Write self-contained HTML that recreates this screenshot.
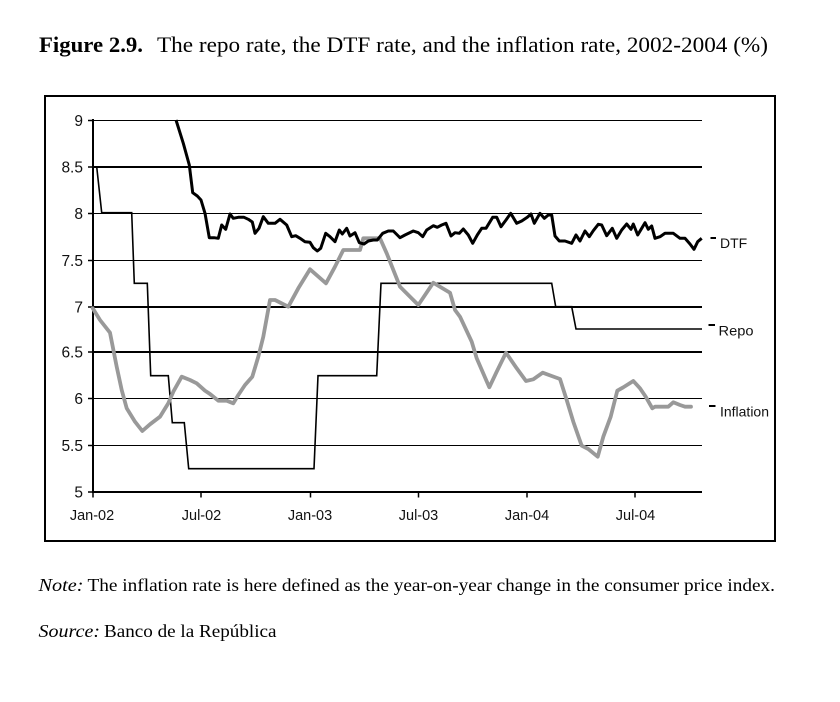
<!DOCTYPE html>
<html>
<head>
<meta charset="utf-8">
<style>
  html, body { margin:0; padding:0; background:#fff; }
  body { width:840px; height:702px; overflow:hidden; }
  svg { display:block; }
</style>
</head>
<body>
<svg width="840" height="702" viewBox="0 0 840 702" xmlns="http://www.w3.org/2000/svg">
  <rect x="0" y="0" width="840" height="702" fill="#fff"/>

  <!-- Title -->
  <text x="39" y="52" font-family="Liberation Serif, serif" font-size="22" font-weight="bold" textLength="104" lengthAdjust="spacingAndGlyphs">Figure 2.9.</text>
  <text x="157" y="52" font-family="Liberation Serif, serif" font-size="22" textLength="611" lengthAdjust="spacingAndGlyphs">The repo rate, the DTF rate, and the inflation rate, 2002-2004 (%)</text>

  <!-- Chart box -->
  <rect x="45" y="96" width="730" height="445" fill="none" stroke="#000" stroke-width="2"/>

  <!-- Gridlines -->
  <g stroke="#000" fill="none">
    <line x1="93" y1="120.5" x2="702" y2="120.5" stroke-width="1"/>
    <line x1="93" y1="167" x2="702" y2="167" stroke-width="2"/>
    <line x1="93" y1="213.5" x2="702" y2="213.5" stroke-width="1"/>
    <line x1="93" y1="260.5" x2="702" y2="260.5" stroke-width="1"/>
    <line x1="93" y1="307" x2="702" y2="307" stroke-width="2"/>
    <line x1="93" y1="352" x2="702" y2="352" stroke-width="2"/>
    <line x1="93" y1="398.5" x2="702" y2="398.5" stroke-width="1"/>
    <line x1="93" y1="445.5" x2="702" y2="445.5" stroke-width="1"/>
  </g>

  <!-- Axes -->
  <g stroke="#000" fill="none">
    <line x1="93" y1="119" x2="93" y2="493" stroke-width="2"/>
    <line x1="92" y1="492" x2="702" y2="492" stroke-width="2"/>
    <g stroke-width="1.5">
      <line x1="88" y1="120.5" x2="93" y2="120.5"/>
      <line x1="88" y1="167" x2="93" y2="167"/>
      <line x1="88" y1="213.5" x2="93" y2="213.5"/>
      <line x1="88" y1="260.5" x2="93" y2="260.5"/>
      <line x1="88" y1="307" x2="93" y2="307"/>
      <line x1="88" y1="352" x2="93" y2="352"/>
      <line x1="88" y1="398.5" x2="93" y2="398.5"/>
      <line x1="88" y1="445.5" x2="93" y2="445.5"/>
      <line x1="88" y1="492" x2="93" y2="492"/>
    </g>
    <g stroke-width="1.5">
      <line x1="93" y1="492" x2="93" y2="497.5"/>
      <line x1="201" y1="492" x2="201" y2="497.5"/>
      <line x1="310.5" y1="492" x2="310.5" y2="497.5"/>
      <line x1="418.5" y1="492" x2="418.5" y2="497.5"/>
      <line x1="527" y1="492" x2="527" y2="497.5"/>
      <line x1="635" y1="492" x2="635" y2="497.5"/>
    </g>
  </g>

  <!-- Y labels -->
  <g font-family="Liberation Sans, Arial, sans-serif" font-size="15.5" fill="#111" text-anchor="end">
    <text x="83" y="126">9</text>
    <text x="83" y="172.5">8.5</text>
    <text x="83" y="219">8</text>
    <text x="83" y="266">7.5</text>
    <text x="83" y="312.5">7</text>
    <text x="83" y="357.5">6.5</text>
    <text x="83" y="404">6</text>
    <text x="83" y="451">5.5</text>
    <text x="83" y="497.5">5</text>
  </g>

  <!-- X labels -->
  <g font-family="Liberation Sans, Arial, sans-serif" font-size="14.5" fill="#111" text-anchor="middle">
    <text x="92" y="520">Jan-02</text>
    <text x="201.5" y="520">Jul-02</text>
    <text x="310" y="520">Jan-03</text>
    <text x="418.5" y="520">Jul-03</text>
    <text x="527" y="520">Jan-04</text>
    <text x="635.5" y="520">Jul-04</text>
  </g>

  <!-- Repo (thin black) -->
  <polyline fill="none" stroke="#000" stroke-width="1.6" stroke-linejoin="miter"
    points="96.7,166.7 101.7,212.7 131.7,212.7 134.3,283.3 147.3,283.3 150.7,375.7 168.3,375.7 172.3,422.7 184.3,422.7 188.7,468.7 314,468.7 318,375.7 376.7,375.7 381,283.3 551.7,283.3 555.7,306.7 571.7,306.7 576,329 702,329"/>

  <!-- Inflation (gray thick) -->
  <polyline fill="none" stroke="#999" stroke-width="3.8" stroke-linejoin="round" stroke-linecap="round"
    points="92.7,308.3 100,320 110,332.7 116.7,366.7 121.7,390 126.7,408.3 135,421.7 142.3,431 150,424.3 160,416.7 168.3,403.3 173.3,391.7 181.7,376.7 190,380 196.7,383.3 205,390.7 210,394 218.3,400.7 226.7,400.7 233.3,403.3 238.3,395 245,385 252.3,376.7 258.3,356.7 263.3,336.7 270,300 275,300 288.3,306.7 298.3,288.3 310,269.3 326,283.3 335,266.7 343.3,250 360,250 363.3,238.3 380,238.3 386.7,253.3 400,286.7 418.3,305 433.3,282.7 450,292.7 455,310 460,316.7 471.7,341.7 476.7,358.3 489.3,387.3 496.7,371.7 506,352.7 516.7,368.3 526,381 533.3,379.3 542.7,372.7 551.7,376 560,379 566.7,400 573.3,421.7 581.7,445.7 588.3,449 597.7,456.7 603.3,436.7 610.7,416.7 617.3,390.7 623.3,387.3 633.3,381 640,388.3 645.7,396.7 652.3,408.3 655,406.7 668.3,406.7 673.3,402.3 680,405 685,406.7 691,406.7"/>

  <!-- DTF (thick black) -->
  <polyline fill="none" stroke="#000" stroke-width="3" stroke-linejoin="round"
    points="176,120 183.3,143.3 189.3,165 192.7,192.7 197.3,196 201,200 205,213.3 209.3,237.7 214,237.7 218.3,238.3 221.7,225 225.7,229.3 230,214 233.3,218.3 238.3,217.3 244,217.3 248.3,219.3 252.3,222 255,233.3 259,228.3 263.3,216.7 268.3,223.3 275,223.3 280,219.3 286.7,225 291.7,236.7 295.7,235.7 300,238.3 305,241.7 310,242.3 313.3,247.7 317.3,251 320.7,248.3 325.7,233.3 330,236.7 335,241.7 339.3,230 342.3,234 346.7,228.3 350,236 355,232.7 359.3,242.7 364,244 368.3,241 373.3,240 377.3,240 382.7,233.3 388.3,231 393.3,231 398.3,236 400,237.7 405,235 413.3,231 418.3,232.7 422.7,236.7 426.7,230 433.3,225.7 437.3,227.3 441.7,225 446,223.3 451,236 455,232.7 459.3,233.3 463.3,229 468.3,235 472.7,243.3 477.3,235 481.7,228.3 486,228.3 492.7,217.3 496.7,217.3 501,226.7 506,220 510.7,213.3 516.7,223.3 521.7,221 527.3,217.3 531,214 534.3,223.3 540,213.3 544.3,218.3 548.3,215 551.7,215 555,236 559.3,241 565,241 571.7,243.3 576,235 580,241 585,231 589.3,236.7 593.3,230.7 598.3,224.3 601.7,225 606.7,235.7 612.3,228.3 616.7,238.3 621.7,230 626.7,224 631,229.3 633.3,224 637.7,235 641.7,228.3 645,222.7 648.3,229.3 651.7,226 655,238.3 660,236.7 665,233.3 673.3,233.3 680,238.3 685,238.3 690,244 694,249.3 697.7,241.7 701.7,238.3"/>

  <!-- Legend dashes -->
  <g stroke="#000" stroke-width="2">
    <line x1="710.5" y1="238" x2="716" y2="238"/>
    <line x1="708.5" y1="325" x2="715" y2="325"/>
    <line x1="709" y1="406" x2="715.5" y2="406"/>
  </g>
  <g font-family="Liberation Sans, Arial, sans-serif" font-size="14" fill="#111">
    <text x="720" y="248">DTF</text>
    <text x="718.5" y="335.5" textLength="35" lengthAdjust="spacingAndGlyphs">Repo</text>
    <text x="720" y="416.5" textLength="49" lengthAdjust="spacingAndGlyphs">Inflation</text>
  </g>

  <!-- Notes -->
  <text x="38.5" y="591" font-family="Liberation Serif, serif" font-size="18" font-style="italic" textLength="45" lengthAdjust="spacingAndGlyphs">Note:</text>
  <text x="87.5" y="591" font-family="Liberation Serif, serif" font-size="18" textLength="687.5" lengthAdjust="spacingAndGlyphs">The inflation rate is here defined as the year-on-year change in the consumer price index.</text>
  <text x="38.5" y="637" font-family="Liberation Serif, serif" font-size="18" font-style="italic" textLength="61.5" lengthAdjust="spacingAndGlyphs">Source:</text>
  <text x="104" y="637" font-family="Liberation Serif, serif" font-size="18" textLength="172.5" lengthAdjust="spacingAndGlyphs">Banco de la República</text>
</svg>
</body>
</html>
